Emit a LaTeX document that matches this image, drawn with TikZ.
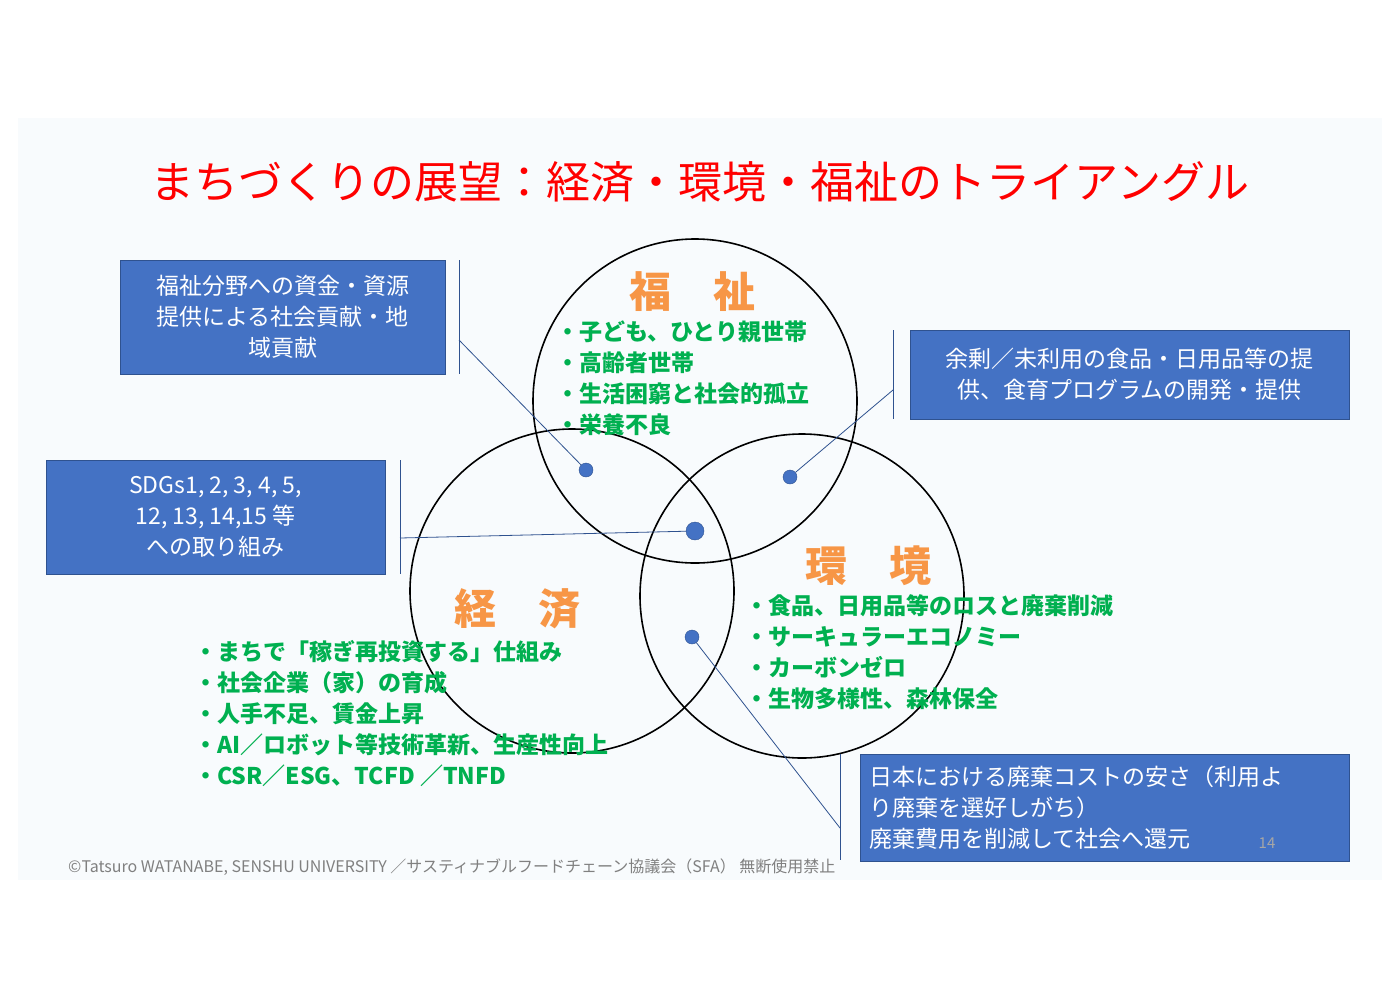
\documentclass[tikz,border=0pt]{standalone}
\usepackage{fontspec}
\setmainfont{Noto Sans CJK JP}
\newfontfamily\jpb{Noto Sans CJK JP}[BoldFont={Noto Sans CJK JP Bold}]
\definecolor{boxblue}{HTML}{4472C4}
\definecolor{boxedge}{HTML}{2F528F}
\definecolor{grn}{HTML}{00B050}
\definecolor{org}{HTML}{F79646}
\definecolor{slide}{HTML}{F8FBFD}
\tikzset{
 bluebox/.style={fill=boxblue,draw=boxedge,line width=0.8pt,text=white,font=\fontsize{23}{31}\selectfont,align=center,inner sep=0pt},
 venn/.style={draw=black,line width=1.6pt},
 grnlist/.style={text=grn,font=\fontsize{23}{31}\selectfont\bfseries,align=left,anchor=north west,inner sep=0pt},
 hdr/.style={text=org,font=\fontsize{42}{46}\selectfont\bfseries,inner sep=0pt},
 conn/.style={draw=boxedge,line width=0.8pt},
 dotc/.style={circle,fill=boxblue,draw=boxedge,inner sep=0pt},
}
\begin{document}
\begin{tikzpicture}[x=1pt,y=-1pt]
\useasboundingbox (0,0) rectangle (1400,996);
\fill[white] (0,0) rectangle (1400,996);
\fill[slide] (18,118) rectangle (1382,880);
\node[text=red,font=\fontsize{44}{48}\selectfont,inner sep=0pt] (title) at (700,182) {まちづくりの展望：経済・環境・福祉のトライアングル};
% circles
\draw[venn] (695,401) circle (162);
\draw[venn] (572,591) circle (162);
\draw[venn] (802,596) circle (162);
% headers
\node[hdr] (h1) at (692,292) {福\hspace{1em}祉};
\node[hdr] (h2) at (868,566) {環\hspace{1em}境};
\node[hdr] (h3) at (517,609) {経\hspace{1em}済};
% lists
\node[grnlist] (l1) at (556,321) {・子ども、ひとり親世帯\\・高齢者世帯\\・生活困窮と社会的孤立\\・栄養不良};
\node[grnlist] (l2) at (745,594) {・食品、日用品等のロスと廃棄削減\\・サーキュラーエコノミー\\・カーボンゼロ\\・生物多様性、森林保全};
\node[grnlist] (l3) at (194,640) {・まちで「稼ぎ再投資する」仕組み\\・社会企業（家）の育成\\・人手不足、賃金上昇\\・AI／ロボット等技術革新、生産性向上\\・CSR／ESG、TCFD ／TNFD};
% boxes
\node[bluebox,minimum width=325,minimum height=114] (b1) at (282.5,317) {福祉分野への資金・資源\\提供による社会貢献・地\\域貢献};
\node[bluebox,minimum width=339,minimum height=114] (b2) at (215.5,517) {SDGs1, 2, 3, 4, 5,\\12, 13, 14,15 等\\への取り組み};
\node[bluebox,minimum width=439,minimum height=89] (b3) at (1129.5,374.5) {余剰／未利用の食品・日用品等の提\\供、食育プログラムの開発・提供};
\node[bluebox,minimum width=489,minimum height=107,align=left,text width=470] (b4) at (1104.5,807.5) {日本における廃棄コストの安さ（利用よ\\り廃棄を選好しがち）\\廃棄費用を削減して社会へ還元};
\node[text=gray!70,font=\fontsize{15}{15}\selectfont,inner sep=0pt] (pg) at (1267,843) {14};
% brackets
\coordinate (v1a) at (459,260); \coordinate (v1b) at (459,374);
\coordinate (v2a) at (400,460); \coordinate (v2b) at (400,574);
\coordinate (v3a) at (893,330); \coordinate (v3b) at (893,419);
\coordinate (v4a) at (840,754); \coordinate (v4b) at (840,860);
\draw[conn] (v1a)--(v1b); \draw[conn] (v2a)--(v2b); \draw[conn] (v3a)--(v3b); \draw[conn] (v4a)--(v4b);
\coordinate (c1) at (459,340); \coordinate (c2) at (400,538); \coordinate (c3) at (893,390); \coordinate (c4) at (840,828);
\node[dotc,minimum size=14] (d1) at (586,470) {};
\node[dotc,minimum size=18] (d2) at (695,531) {};
\node[dotc,minimum size=14] (d3) at (790,477) {};
\node[dotc,minimum size=14] (d4) at (692,637) {};
\draw[conn] (c1)--(d1); \draw[conn] (c2)--(d2); \draw[conn] (c3)--(d3); \draw[conn] (d4)--(c4);
\node[text=gray,font=\fontsize{16}{16}\selectfont,anchor=west,inner sep=0pt] (foot) at (68,867) {©Tatsuro WATANABE, SENSHU UNIVERSITY ／サスティナブルフードチェーン協議会（SFA） 無断使用禁止};
\end{tikzpicture}
\end{document}
